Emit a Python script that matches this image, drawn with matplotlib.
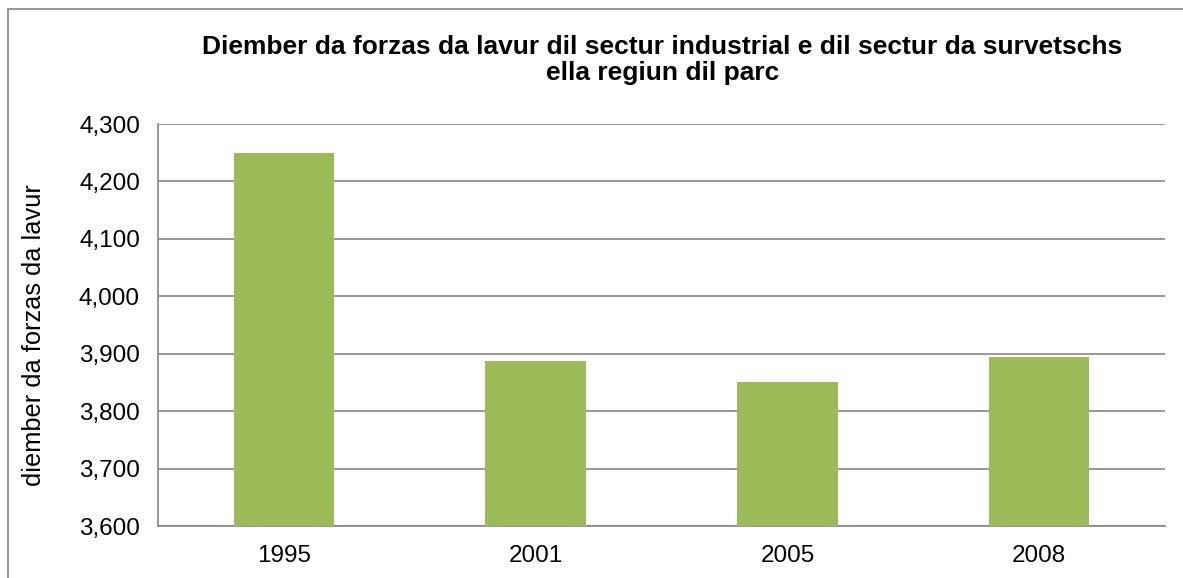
import matplotlib
matplotlib.use("Agg")
import matplotlib.pyplot as plt
from matplotlib.patches import Rectangle
from matplotlib.ticker import FuncFormatter

plt.rcParams['font.family'] = ['Liberation Sans', 'DejaVu Sans']

years = ["1995", "2001", "2005", "2008"]
values = [4250, 3887, 3850, 3895]
title = "Diember da forzas da lavur dil sectur industrial e dil sectur da survetschs\nella regiun dil parc"
ylabel = "diember da forzas da lavur"

W, H = 1183, 578
fig = plt.figure(figsize=(W / 100, H / 100), dpi=100)

# outer chart border (right and bottom edges fall outside the image)
fig.patches.append(Rectangle((8 / W, -0.2), 1.5, 1.2 - 9 / H, transform=fig.transFigure,
                             fill=False, edgecolor="#868686", linewidth=1.2))

left, right, top, bottom = 158, 1165, 124, 526
ax = fig.add_axes([left / W, 1 - bottom / H, (right - left) / W, (bottom - top) / H])

x = range(len(years))
ax.bar(x, values, width=0.4, color="#9BBB59", zorder=3)
ax.set_xlim(-0.5, len(years) - 0.5)
ax.set_ylim(3600, 4300)
ax.set_yticks(range(3600, 4301, 100))
ax.yaxis.set_major_formatter(FuncFormatter(lambda v, p: f"{int(v):,}"))
ax.set_xticks(list(x))
ax.set_xticklabels(years)
ax.grid(axis="y", color="#868686", linewidth=1.2, zorder=0)
for s in ["top", "right"]:
    ax.spines[s].set_visible(False)
for s in ["left", "bottom"]:
    ax.spines[s].set_color("#868686")
    ax.spines[s].set_linewidth(1.2)
ax.tick_params(length=0, labelsize=17.5, pad=13)
ax.tick_params(axis="x", pad=14)
ax.set_ylabel(ylabel, fontsize=18.3)
ax.yaxis.set_label_coords((46 - left) / (right - left), 1 - (335 - top) / (bottom - top))

fig.text(662.5 / W, 1 - 60 / H, title, ha="center", va="center", fontsize=19,
         fontweight="bold", linespacing=1.15)

fig.savefig("out.png", dpi=100)
